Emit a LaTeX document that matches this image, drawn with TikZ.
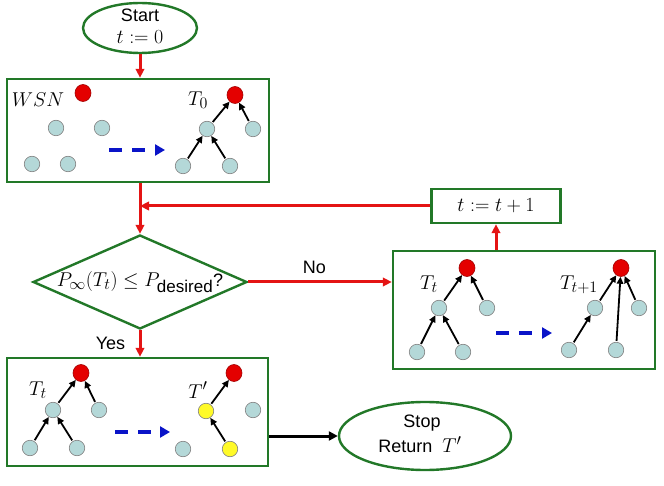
\RequirePackage{fix-cm}
\documentclass[tikz,border=0pt]{standalone}
\usepackage{amsmath}
\usepackage{fontspec}
\setmainfont{Liberation Sans}
\usetikzlibrary{shapes.geometric,arrows.meta}
% larger sub/superscripts for the formulas
\DeclareMathSizes{20}{20}{16}{12}

\definecolor{frame}{RGB}{34,120,40}
\definecolor{leafcol}{RGB}{180,216,216}
\definecolor{rootcol}{RGB}{228,0,0}
\definecolor{yelcol}{RGB}{255,250,40}
\definecolor{flowred}{RGB}{228,20,20}
\definecolor{dashblue}{RGB}{10,20,200}

% sizes for text and formulas
\newcommand{\txtsize}{\fontsize{18}{22}\selectfont}
\newcommand{\mathsz}{\fontsize{20}{22}\selectfont}

\tikzset{
  every node/.style={font=\txtsize},
  lbl/.style={font=\mathsz, inner sep=0pt},
  stepbox/.style={draw=frame, line width=2.4pt, rectangle, inner sep=0pt},
  terminal/.style={draw=frame, line width=2.4pt, ellipse, inner sep=0pt, align=center},
  decision/.style={draw=frame, line width=2.4pt, diamond, inner sep=0pt},
  leaf/.style={circle, fill=leafcol, draw=gray, line width=0.6pt, minimum size=15.5pt, inner sep=0pt},
  sel/.style={leaf, fill=yelcol},
  sink/.style={ellipse, fill=rootcol, draw=rootcol!70!black, line width=0.6pt, minimum width=16pt, minimum height=17pt, inner sep=0pt},
  link/.style={black, line width=1.8pt, shorten <=1pt, -{Triangle[length=7pt,width=6.5pt]}},
  flow/.style={flowred, line width=3pt, -{Triangle[length=9pt,width=8.5pt]}},
  stepto/.style={dashblue, line width=3.4pt, dash pattern=on 13pt off 10pt, -{Triangle[length=10pt,width=11pt]}},
  exit/.style={black, line width=3pt, -{Triangle[length=9pt,width=9pt]}},
}

\begin{document}
\begin{tikzpicture}[x=1pt,y=-1pt]
\useasboundingbox (0,0) rectangle (664,486);

% flowchart blocks
\node[terminal, minimum width=114pt, minimum height=50pt] (start) at (140,28) {};
\node at (140,15) {Start};
\node[lbl] at (140,37) {$t:=0$};
\node[stepbox, minimum width=262pt, minimum height=103pt] (box1) at (138,130.5) {};
\node[decision, minimum width=214pt, minimum height=94pt] (dec) at (140,282) {};
\node[lbl] at (dec.center) {$P_\infty(T_t)\le P_{\mbox{\fontsize{17}{17}\selectfont desired}}$\txtsize ?};
\node[stepbox, minimum width=129pt, minimum height=34pt, font=\mathsz] (tbox) at (496,206) {$t:=t+1$};
\node[stepbox, minimum width=262pt, minimum height=118pt] (boxR) at (524,310) {};
\node[stepbox, minimum width=261pt, minimum height=108pt] (box3) at (137.5,412) {};
\node[terminal, minimum width=172pt, minimum height=68pt] (stop) at (425,436) {};
\node at (422,423) {Stop};
\node at (420,445) {Return~~{\mathsz$T'$}};

% flow connectors
\draw[flow] (start.south -| start.center) -- (start.center |- box1.north);
\draw[flow] (dec.north |- box1.south) -- (dec.north);
\draw[flow] (tbox.west) -- (tbox.west -| dec.north);
\draw[flow] (dec.east) -- node[pos=0.46, above=3pt, black] {No} (boxR.west |- dec.east);
\draw[flow] (boxR.north -| tbox.south) -- (tbox.south);
\draw[flow] (dec.south) -- node[left=10pt, black] {Yes} (dec.south |- box3.north);
\draw[exit] (box3.east |- stop.west) -- (stop.west);

% initial network and first tree
\node[lbl] at (38,100) {$WSN$};
\node[sink] (w0) at (83,93) {};
\node[leaf] (w1) at (56,128) {};
\node[leaf] (w2) at (102,128) {};
\node[leaf] (w3) at (32,164) {};
\node[leaf] (w4) at (68,164) {};
\coordinate (d1a) at (109,150);
\coordinate (d1b) at (165,150);
\draw[stepto] (d1a) -- (d1b);
\node[lbl] at (198,100) {$T_0$};
\node[sink] (a0) at (235,95) {};
\node[leaf] (a1) at (207,129) {};
\node[leaf] (a2) at (253,129) {};
\node[leaf] (a3) at (183,166) {};
\node[leaf] (a4) at (230,166) {};
\draw[link] (a1) -- (a0);
\draw[link] (a2) -- (a0);
\draw[link] (a3) -- (a1);
\draw[link] (a4) -- (a1);

% tree update
\node[lbl] at (429,284) {$T_t$};
\node[sink] (b0) at (467,268) {};
\node[leaf] (b1) at (439,308) {};
\node[leaf] (b2) at (487,308) {};
\node[leaf] (b3) at (417,352) {};
\node[leaf] (b4) at (463,352) {};
\draw[link] (b1) -- (b0);
\draw[link] (b2) -- (b0);
\draw[link] (b3) -- (b1);
\draw[link] (b4) -- (b1);
\coordinate (d2a) at (496,333);
\coordinate (d2b) at (552,333);
\draw[stepto] (d2a) -- (d2b);
\node[lbl] at (579,285) {$T_{t+1}$};
\node[sink] (c0) at (621,268) {};
\node[leaf] (c1) at (595,308) {};
\node[leaf] (c2) at (639,308) {};
\node[leaf] (c3) at (569,350) {};
\node[leaf] (c4) at (616,350) {};
\draw[link] (c1) -- (c0);
\draw[link] (c2) -- (c0);
\draw[link] (c3) -- (c1);
\draw[link] (c4) -- (c0);

% final tree
\node[lbl] at (38,390) {$T_t$};
\node[sink] (e0) at (81,373) {};
\node[leaf] (e1) at (53,410) {};
\node[leaf] (e2) at (99,410) {};
\node[leaf] (e3) at (30,448) {};
\node[leaf] (e4) at (77,448) {};
\draw[link] (e1) -- (e0);
\draw[link] (e2) -- (e0);
\draw[link] (e3) -- (e1);
\draw[link] (e4) -- (e1);
\coordinate (d3a) at (115,432);
\coordinate (d3b) at (170,432);
\draw[stepto] (d3a) -- (d3b);
\node[lbl] at (198,390) {$T'$};
\node[sink] (f0) at (234,373) {};
\node[sel] (f1) at (206,411) {};
\node[leaf] (f2) at (253,410) {};
\node[leaf] (f3) at (183,449) {};
\node[sel] (f4) at (230,449) {};
\draw[link] (f1) -- (f0);
\draw[link] (f4) -- (f1);
\end{tikzpicture}
\end{document}
